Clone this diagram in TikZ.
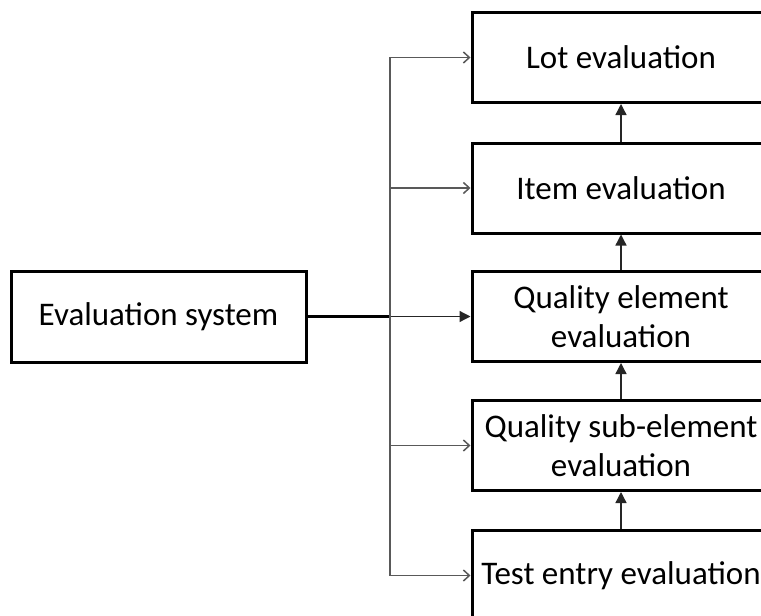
\documentclass[tikz,border=0pt]{standalone}
\usepackage{fontspec}
\setmainfont{Carlito}
\usetikzlibrary{arrows.meta, positioning}

\begin{document}
\begin{tikzpicture}[x=1pt, y=-1pt,
  ebox/.style={draw, line width=3pt, minimum width=298pt, minimum height=90pt, align=center, inner sep=0pt, font=\fontsize{33}{39}\selectfont},
  feed/.style={draw=black!65, line width=1.5pt, -{Straight Barb[length=6pt, width=11pt]}},
  upflow/.style={draw=black!85, line width=1.3pt, -{Triangle[length=11pt, width=11pt]}}
]
  \useasboundingbox (0,0) rectangle (761,616);
  \clip (0,0) rectangle (761,616);
  \fill[white] (0,0) rectangle (761,616);

  \node[ebox, minimum width=295pt, minimum height=91pt] (sys) at (158.5, 316.5) {Evaluation system};
  \node[ebox] (lot) at (621, 57.5) {Lot evaluation};
  \node[ebox] (item) at (621, 188) {Item evaluation};
  \node[ebox] (qe) at (621, 316.5) {Quality element\\evaluation};
  \node[ebox] (qse) at (621, 445.5) {Quality sub-element\\evaluation};
  \node[ebox] (test) at (621, 575.5) {Test entry evaluation};

  \coordinate (trunk) at (390, 316.5);
  \draw[line width=2.4pt] (sys.east) -- (trunk);
  \draw[upflow] (trunk) -- (qe.west);
  \draw[feed] (trunk) |- (lot.west);
  \draw[feed] (trunk) |- (item.west);
  \draw[feed] (trunk) |- (qse.west);
  \draw[feed] (trunk) |- (test.west);

  \draw[upflow] (item.north) -- (lot.south);
  \draw[upflow] (qe.north) -- (item.south);
  \draw[upflow] (qse.north) -- (qe.south);
  \draw[upflow] (test.north) -- (qse.south);
\end{tikzpicture}
\end{document}
